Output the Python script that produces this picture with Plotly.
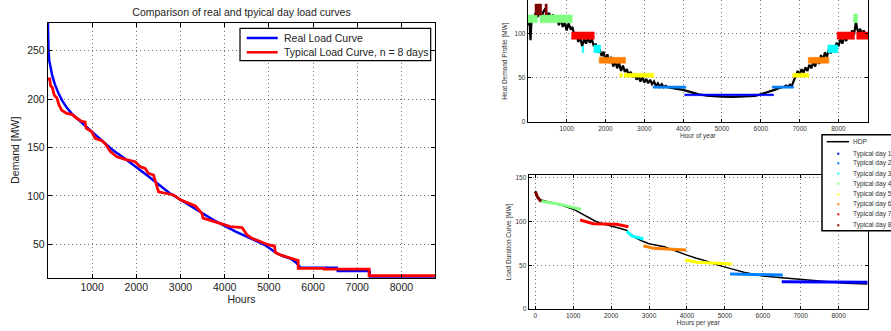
import plotly.graph_objects as go

W, H = 891, 331
FONT = "Liberation Sans, Arial, Helvetica, sans-serif"

# ---------------- Left chart: load duration curves ----------------
real_hours = [0, 0, 15, 30, 60, 100, 160, 240, 330, 430, 540, 680, 850, 1000, 1200, 1450, 1700,
              2000, 2250, 2500, 2750, 3000, 3250, 3500, 3750, 4000, 4250, 4500, 4750, 4900, 5050,
              5150, 5300, 5500, 5620, 5700, 5720, 6540, 6560, 7280, 7290, 8760]
real_mw = [279, 262, 250, 240, 232, 224, 215, 206, 198, 191, 185, 179, 172, 166, 158, 148, 140,
           130, 121, 112, 103, 96, 89, 82, 75, 69, 63, 58, 53, 49.5, 45,
           41.5, 38, 35, 31, 26.5, 25.8, 25.8, 22.5, 22.5, 16.5, 16]

typ_hours = [0, 40, 60, 100, 145, 200, 252, 313, 426, 540, 653, 766, 840, 864, 993, 1030, 1068,
             1219, 1295, 1370, 1408, 1560, 1749, 1975, 2088, 2200, 2277, 2390, 2428, 2467, 2504,
             2844, 3000, 3336, 3434, 3487, 3510, 3751, 3978, 4129, 4394, 4508, 4621, 4810, 4998,
             5127, 5148, 5264, 5565, 5641, 5664, 5664, 6245, 6250, 7268, 7268, 8760]
typ_mw = [221, 221, 214, 212, 204, 201.5, 194, 188.5, 185.3, 184.3, 180.2, 177, 176.5, 170, 166.3, 163, 159.5,
          157, 154, 149, 146, 140.5, 137.7, 135.3, 130.2, 128.5, 123.4, 121.6, 116.4, 110, 104.3,
          101, 96, 89.6, 84, 82, 77, 73.4, 70, 68.2, 67.2, 59.6, 56.2, 52.7, 49.3,
          48.2, 41.5, 39, 34.8, 33.6, 33.3, 25.2, 25.2, 24.3, 24.3, 17.5, 17.5]

left_xticks = [1000, 2000, 3000, 4000, 5000, 6000, 7000, 8000]
left_yticks = [50, 100, 150, 200, 250]

# ---------------- Right top: heat demand profile ----------------
hdp_hours = [0, 40, 70, 100, 150, 200, 250, 300, 350, 400, 450, 500, 550, 600, 650, 700, 750, 800,
             850, 900, 950, 1000, 1050, 1100, 1150, 1200, 1250, 1300, 1350, 1400, 1450, 1500, 1550,
             1600, 1650, 1700, 1750, 1800, 1850, 1900, 1950, 2000, 2050, 2100, 2150, 2200, 2250,
             2300, 2350, 2400, 2450, 2500, 2550, 2600, 2650, 2700, 2750, 2800, 2850, 2900, 2950,
             3000, 3050, 3100, 3150, 3200, 3250, 3300, 3350, 3400, 3450, 3500, 3550, 3600, 3800,
             4000, 4200, 4400, 4600, 4800, 5000, 5300, 5600, 5850, 6000, 6200, 6350, 6500, 6600,
             6650, 6700, 6750, 6800, 6850, 6900, 6950, 7000, 7050, 7100, 7150, 7200, 7250, 7300,
             7350, 7400, 7450, 7500, 7550, 7600, 7650, 7700, 7750, 7800, 7850, 7900, 7950, 8000,
             8050, 8100, 8150, 8200, 8250, 8300, 8350, 8400, 8450, 8480, 8520, 8560, 8600, 8650,
             8700, 8760]
hdp_mw = [110, 118, 93, 120, 115, 124, 119, 127, 118, 125, 129, 119, 124, 116, 122, 114, 120, 110,
          117, 108, 114, 104, 112, 106, 108, 97, 101, 91, 96, 86, 94, 89, 96,
          90, 94, 86, 89, 79, 83, 75, 80, 70, 77, 67, 74, 63, 70,
          61, 67, 58, 64, 57, 60, 53, 57, 51, 55, 48, 52, 46, 51,
          45, 49, 44, 48, 43, 46, 41, 44, 40, 43, 39.5, 41, 39.5, 38,
          36.5, 34, 31.5, 30, 29.2, 28.8, 28.6, 28.8, 29.5, 31.5, 34, 36.5, 39, 40,
          41.5, 40, 42.5, 41, 47, 52, 58, 54, 60, 56, 62, 58, 65, 61,
          68, 63, 72, 66, 76, 70, 79, 74, 82, 78, 86, 82, 90, 86,
          94, 89, 97, 92, 100, 95, 104, 99, 114, 106, 101, 106, 99, 104,
          98, 101]

# typical-day bands shown on the profile (day index, hour range, value range)
band_day = [1, 2, 2, 3, 3, 3, 4, 4, 4, 5, 5, 5, 6, 6, 7, 7, 7, 8, 8]
band_start = [4041, 3226, 6296, 1702, 7725, 1400, 5, 313, 8386, 2370, 2480, 6825, 1838, 7221, 1128, 7966, 8470, 185, 442]
band_end = [6329, 4067, 6843, 1874, 7982, 1440, 244, 1145, 8488, 2430, 3244, 7237, 2517, 7751, 1710, 8411, 8760, 357, 501]
band_low = [29.9, 38.3, 38.3, 78.8, 78.8, 79, 112.8, 112.8, 112.8, 50.8, 50.8, 50.8, 66.7, 66.7, 94, 94, 94, 121.6, 122]
band_high = [31.8, 40.9, 40.9, 87.5, 87.5, 86, 121.6, 121.6, 122.7, 55.3, 55.3, 55.3, 73.5, 73.5, 102.3, 102.3, 102.3, 134, 134]

top_xticks = [1000, 2000, 3000, 4000, 5000, 6000, 7000, 8000]
top_yticks = [0, 50, 100]

# ---------------- Right bottom: load duration curve ----------------
ldc_hours = [0, 40, 150, 400, 700, 1000, 1200, 1400, 1600, 1800, 2000, 2200, 2400, 2500, 2600, 2800,
             3000, 3400, 3700, 4000, 4250, 4500, 4750, 5000, 5250, 5500, 5750, 6000, 6500, 7000,
             7400, 7800, 8200, 8760]
ldc_mw = [135, 128, 124.5, 121.5, 118.5, 114, 109.5, 104.5, 100, 97, 95, 92.5, 90, 86.5, 82.5, 78,
          74.5, 71, 66, 61.5, 58, 55, 51, 48.3, 45, 42, 39.5, 37.7, 35.8, 33.9,
          31.8, 30.3, 29.3, 28.5]

ldc_td_day = [8, 8, 8, 4, 4, 4, 7, 7, 7, 7, 3, 3, 3, 6, 6, 6, 5, 5, 5, 2, 2, 1, 1]
ldc_td_hours = [0, 60, 150, 150, 652, 1205, 1179, 1531, 2148, 2455, 2412, 2543, 2850, 2850, 3114, 3976,
                3950, 4257, 5181, 5137, 6527, 6500, 8760]
ldc_td_mw = [134, 127.6, 122.7, 123, 119.5, 113.8, 101.6, 97.3, 96.7, 94, 89, 83.4, 79.9, 72.3, 69.3, 67.4,
             56, 53.3, 51.4, 40, 38.8, 31.2, 30.5]

bot_xticks = [0, 1000, 2000, 3000, 4000, 5000, 6000, 7000, 8000]
bot_yticks = [0, 50, 100, 150]

td_colors = ['#0000ff', '#0080ff', '#00ffff', '#80ff80', '#ffff00', '#ff8000', '#ff0000', '#800000']
td_names = ['Typical day %d' % k for k in range(1, 9)]


def px(x):
    return x / W


def py(y):
    return 1 - y / H


fig = go.Figure()

# left chart
fig.add_trace(go.Scatter(x=real_hours, y=real_mw, mode='lines', name='Real Load Curve',
                         line=dict(color='#0000ff', width=2.5), xaxis='x', yaxis='y'))
fig.add_trace(go.Scatter(x=typ_hours, y=typ_mw, mode='lines', name='Typical Load Curve, n = 8 days',
                         line=dict(color='#ff0000', width=2.8), xaxis='x', yaxis='y'))

# right top
fig.add_trace(go.Scatter(x=hdp_hours, y=hdp_mw, mode='lines', name='HDP',
                         line=dict(color='black', width=2.2), xaxis='x2', yaxis='y2'))
for d in range(1, 9):
    xs, ys = [], []
    for i, bd in enumerate(band_day):
        if bd != d:
            continue
        s, e, lo, hi = band_start[i], band_end[i], band_low[i], band_high[i]
        xs += [s, e, e, s, s, None]
        ys += [lo, lo, hi, hi, lo, None]
    fig.add_trace(go.Scatter(x=xs, y=ys, mode='lines', fill='toself', fillcolor=td_colors[d - 1],
                             line=dict(width=0.5, color=td_colors[d - 1]), name=td_names[d - 1],
                             xaxis='x2', yaxis='y2'))

# right bottom
fig.add_trace(go.Scatter(x=ldc_hours, y=ldc_mw, mode='lines', name='HDP',
                         line=dict(color='black', width=1.5), xaxis='x3', yaxis='y3'))
for d in range(1, 9):
    xs = [h for h, dd in zip(ldc_td_hours, ldc_td_day) if dd == d]
    ys = [m for m, dd in zip(ldc_td_mw, ldc_td_day) if dd == d]
    fig.add_trace(go.Scatter(x=xs, y=ys, mode='lines', name=td_names[d - 1],
                             line=dict(color=td_colors[d - 1], width=3), xaxis='x3', yaxis='y3'))

grid = dict(showgrid=True, gridcolor='rgba(0,0,0,0.55)', griddash='1px,3px', gridwidth=1,
            zeroline=False, showline=True, linecolor='black', ticks='inside', tickcolor='black')

big = dict(family=FONT, size=10.5, color='#222')
small = dict(family=FONT, size=6.5, color='#333')

layout = dict(
    width=W, height=H, margin=dict(l=0, r=0, t=0, b=0, autoexpand=False),
    paper_bgcolor='white', plot_bgcolor='white', showlegend=False,
    font=dict(family=FONT, color='#222'),
    title=dict(text='Comparison of real and tpyical day load curves', x=px(241.5), y=py(12),
               xref='paper', yref='paper', xanchor='center', yanchor='middle',
               font=dict(family=FONT, size=10.5, color='#222')),
    xaxis=dict(domain=[px(47.9), px(435)], range=[0, 8760], tickvals=left_xticks,
               mirror='ticks', ticklen=4, linewidth=1.2, tickfont=big, anchor='y',
               title=dict(text='Hours', font=big, standoff=3), **grid),
    yaxis=dict(domain=[py(277.7), py(22.7)], range=[15.5, 279], tickvals=left_yticks,
               mirror='ticks', ticklen=4, linewidth=1.2, tickfont=big, anchor='x',
               title=dict(text='Demand [MW]', font=big, standoff=5), **grid),
    xaxis2=dict(domain=[px(527.8), px(868)], range=[0, 8760], tickvals=top_xticks,
                ticklen=3, linewidth=1.2, tickfont=small, anchor='y2',
                title=dict(text='Hour of year', font=small, standoff=2), **grid),
    yaxis2=dict(domain=[py(122), 1], range=[0, 138.6], tickvals=top_yticks,
                mirror='ticks', ticklen=3, linewidth=1.2, tickfont=small, anchor='x2',
                title=dict(text='Heat Demand Profile [MW]', font=small, standoff=6), **grid),
    xaxis3=dict(domain=[px(528.7), px(868)], range=[-175, 8775], tickvals=bot_xticks,
                mirror='ticks', ticklen=3, linewidth=1.2, tickfont=small, anchor='y3',
                title=dict(text='Hours per year', font=small, standoff=2), **grid),
    yaxis3=dict(domain=[py(309), py(174.7)], range=[0, 153.4], tickvals=bot_yticks,
                mirror='ticks', ticklen=3, linewidth=1.2, tickfont=small, anchor='x3',
                title=dict(text='Load Duration Curve [MW]', font=small, standoff=3), **grid),
)
fig.update_layout(**layout)

shapes = []
annotations = []

# left legend (drawn by hand to match the compact original)
shapes.append(dict(type='rect', xref='paper', yref='paper', x0=px(240), x1=px(430.7), y0=py(60.7), y1=py(28.3),
                   line=dict(color='black', width=1.2), fillcolor='white', layer='above'))
for yy, col, txt in [(38, '#0000ff', 'Real Load Curve'), (52.3, '#ff0000', 'Typical Load Curve, n = 8 days')]:
    shapes.append(dict(type='line', xref='paper', yref='paper', x0=px(246.7), x1=px(277.7), y0=py(yy), y1=py(yy),
                       line=dict(color=col, width=2.5), layer='above'))
    annotations.append(dict(text=txt, xref='paper', yref='paper', x=px(281.5), y=py(yy), xanchor='left',
                            yanchor='middle', showarrow=False, font=dict(family=FONT, size=10.5, color='#222')))

# right legend
shapes.append(dict(type='rect', xref='paper', yref='paper', x0=px(822), x1=px(905), y0=py(230.7), y1=py(134.7),
                   line=dict(color='black', width=1.5), fillcolor='white', layer='above'))
leg_y = [141.7, 153.7, 163.3, 173.7, 183.7, 194.3, 204.3, 214.3, 225.3]
shapes.append(dict(type='line', xref='paper', yref='paper', x0=px(826.7), x1=px(849), y0=py(leg_y[0]), y1=py(leg_y[0]),
                   line=dict(color='black', width=1.5), layer='above'))
annotations.append(dict(text='HDP', xref='paper', yref='paper', x=px(851), y=py(leg_y[0]), xanchor='left',
                        yanchor='middle', showarrow=False, font=dict(family=FONT, size=6.6, color='#333')))
for k in range(8):
    yy = leg_y[k + 1]
    shapes.append(dict(type='rect', xref='paper', yref='paper', x0=px(837.3), x1=px(839.3), y0=py(yy + 1), y1=py(yy - 1),
                       line=dict(width=0), fillcolor=td_colors[k], layer='above'))
    annotations.append(dict(text=td_names[k], xref='paper', yref='paper', x=px(851), y=py(yy), xanchor='left',
                            yanchor='middle', showarrow=False, font=dict(family=FONT, size=6.6, color='#333')))

fig.update_layout(shapes=shapes, annotations=annotations)
fig.write_html("out.html", config={'displayModeBar': False},
               post_script="document.body.style.margin='0';document.body.style.overflow='hidden';")
